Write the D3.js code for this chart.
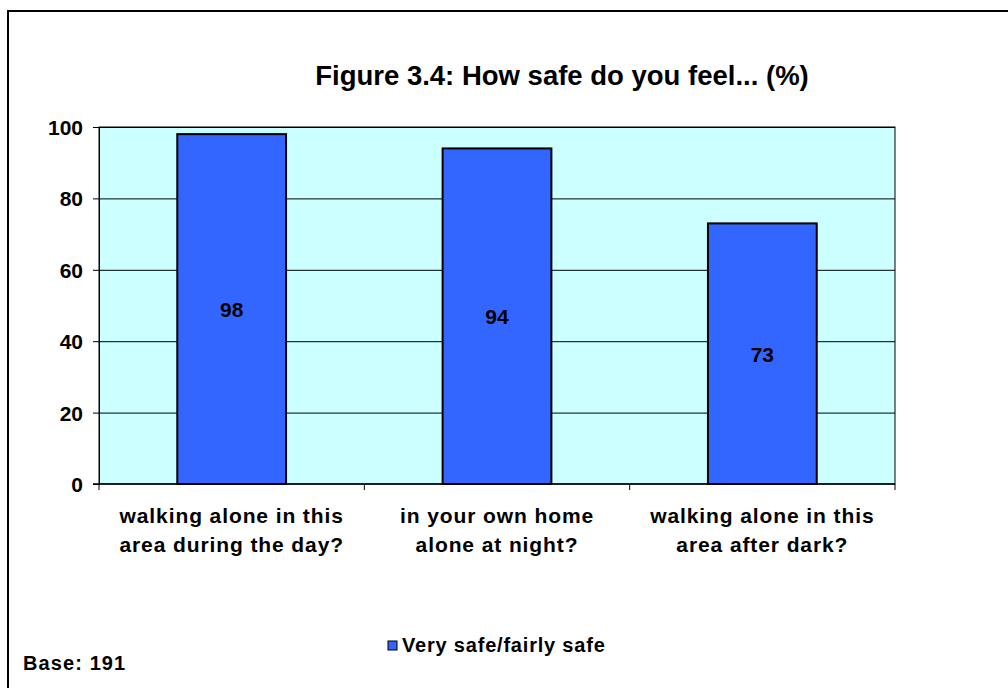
<!DOCTYPE html>
<html>
<head>
<meta charset="utf-8">
<script src="https://cdn.jsdelivr.net/npm/d3@7"></script>
<style>
  body { margin: 0; background: #fff; }
  text { font-family: "Liberation Sans", Arial, sans-serif; font-weight: bold; fill: #000; }
</style>
</head>
<body>
<div id="chart"></div>
<script>
var categories = [
    ["walking alone in this", "area during the day?"],
    ["in your own home", "alone at night?"],
    ["walking alone in this", "area after dark?"]
];
var values = [98, 94, 73];
var yTicks = [0, 20, 40, 60, 80, 100];
var seriesName = "Very safe/fairly safe";
var title = "Figure 3.4: How safe do you feel... (%)";
var baseNote = "Base: 191";

var W = 1008, H = 688;
var margin = { top: 127, left: 99, right: 113, bottom: 204 };
var width = W - margin.left - margin.right,
    height = H - margin.top - margin.bottom;

var svg = d3.select("#chart").append("svg")
    .attr("width", W)
    .attr("height", H);

// outer frame (runs off the right and bottom of the picture)
svg.append("rect")
    .attr("x", 8).attr("y", 11)
    .attr("width", W + 20).attr("height", H + 20)
    .attr("fill", "none").attr("stroke", "#000").attr("stroke-width", 2);

svg.append("text")
    .attr("x", 562).attr("y", 85)
    .attr("text-anchor", "middle")
    .style("font-size", "27.5px")
    .text(title);

var g = svg.append("g")
    .attr("transform", "translate(" + margin.left + "," + margin.top + ")");

var x = d3.scaleBand().domain(d3.range(categories.length)).range([0, width])
    .paddingInner(0.59).paddingOuter(0.295);
var y = d3.scaleLinear().domain([0, 100]).range([height, 0]);

g.append("rect")
    .attr("width", width).attr("height", height)
    .attr("fill", "#CCFFFF").attr("stroke", "#000").attr("stroke-width", 1);

g.selectAll(".grid").data(yTicks.slice(1))
    .enter().append("line")
    .attr("x1", 0).attr("x2", width)
    .attr("y1", function(d) { return y(d) + 0.5; })
    .attr("y2", function(d) { return y(d) + 0.5; })
    .attr("stroke", "#000").attr("stroke-width", 1);

g.selectAll(".bar").data(values)
    .enter().append("rect")
    .attr("x", function(d, i) { return x(i); })
    .attr("y", function(d) { return y(d); })
    .attr("width", x.bandwidth())
    .attr("height", function(d) { return height - y(d); })
    .attr("fill", "#3366FF").attr("stroke", "#000").attr("stroke-width", 2);

g.selectAll(".val").data(values)
    .enter().append("text")
    .attr("x", function(d, i) { return x(i) + x.bandwidth() / 2; })
    .attr("y", function(d) { return y(d / 2) + 8; })
    .attr("text-anchor", "middle")
    .style("font-size", "21px")
    .text(function(d) { return d; });

// y axis
var yAxis = d3.axisLeft(y).tickValues(yTicks).tickSize(6).tickPadding(10);
var ya = g.append("g").call(yAxis);
ya.select(".domain").attr("stroke", "#000");
ya.selectAll("text").style("font-size", "21px").attr("dy", "0.36em");

// x axis with ticks between categories
var step = width / categories.length;
var xa = g.append("g").attr("transform", "translate(0," + height + ")");
xa.append("line").attr("x1", -6).attr("x2", width).attr("stroke", "#000").attr("stroke-width", 1.5);
xa.selectAll(".xt").data(d3.range(categories.length + 1))
    .enter().append("line")
    .attr("x1", function(d) { return d * step; })
    .attr("x2", function(d) { return d * step; })
    .attr("y1", 0).attr("y2", 6)
    .attr("stroke", "#000");

xa.selectAll(".lbl").data(categories)
    .enter().append("text")
    .attr("text-anchor", "middle")
    .attr("transform", function(d, i) { return "translate(" + (x(i) + x.bandwidth() / 2) + ",0)"; })
    .style("font-size", "21px")
    .style("letter-spacing", "0.9px")
    .selectAll("tspan").data(function(d) { return d; })
    .enter().append("tspan")
    .attr("x", 0)
    .attr("y", function(d, j) { return 39 + j * 29; })
    .text(function(d) { return d; });

// legend
svg.append("rect")
    .attr("x", 388).attr("y", 641).attr("width", 9).attr("height", 9)
    .attr("fill", "#3366FF").attr("stroke", "#000").attr("stroke-width", 1);
svg.append("text")
    .attr("x", 402).attr("y", 652)
    .style("font-size", "20px")
    .style("letter-spacing", "0.8px")
    .text(seriesName);

svg.append("text")
    .attr("x", 23).attr("y", 670)
    .style("font-size", "20px")
    .style("letter-spacing", "1.1px")
    .text(baseNote);
</script>
</body>
</html>
